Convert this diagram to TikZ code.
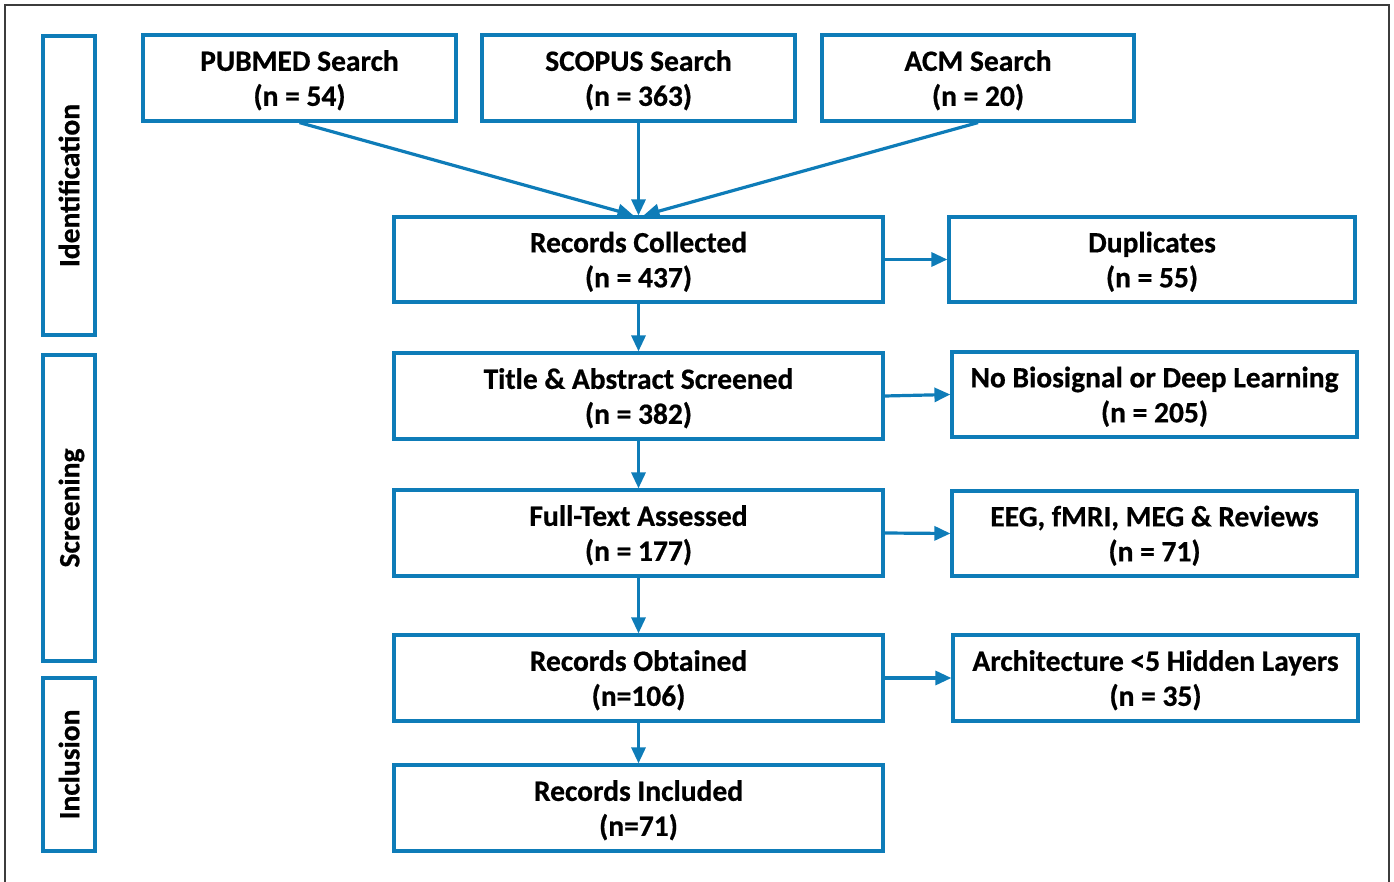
\documentclass[tikz,border=0pt]{standalone}
\usepackage{fontspec}
\setmainfont{Carlito}[BoldFeatures={FakeBold=0.6}]
\usetikzlibrary{arrows.meta}
\definecolor{prismablue}{RGB}{14,124,184}
\definecolor{framegray}{RGB}{60,60,60}
\begin{document}
\begin{tikzpicture}[x=1pt, y=-1pt,
    box/.style={draw=prismablue, line width=3.2pt, fill=white, align=center,
        inner sep=0pt, text depth=0pt, font=\fontsize{29.5}{35}\selectfont\bfseries},
    phase/.style={box, rotate=90, minimum height=52},
    flow/.style={draw=prismablue, line width=3.2pt,
        -{Triangle[length=16pt, width=14pt]}}]
    \useasboundingbox (0,0) rectangle (1394,882);
    % outer frame
    \draw[framegray, line width=2pt] (5,895) -- (5,5) -- (1389,5) -- (1389,895);
    % phases
    \node[phase, minimum width=299] (ident) at (69,185.5) {Identification};
    \node[phase, minimum width=306] (screen) at (69,508) {Screening};
    \node[phase, minimum width=173] (incl) at (69,764.5) {Inclusion};
    % searches
    \node[box, minimum width=313, minimum height=86] (pubmed) at (299.5,78)
        {PUBMED Search\\(n = 54)};
    \node[box, minimum width=313, minimum height=86] (scopus) at (638.5,78)
        {SCOPUS Search\\(n = 363)};
    \node[box, minimum width=312, minimum height=86] (acm) at (978,78)
        {ACM Search\\(n = 20)};
    % main column
    \node[box, minimum width=489, minimum height=85] (collected) at (638.5,259.5)
        {Records Collected\\(n = 437)};
    \node[box, minimum width=489, minimum height=86] (screened) at (638.5,396)
        {Title \& Abstract Screened\\(n = 382)};
    \node[box, minimum width=489, minimum height=86] (fulltext) at (638.5,533)
        {Full-Text Assessed\\(n = 177)};
    \node[box, minimum width=489, minimum height=86] (obtained) at (638.5,678)
        {Records Obtained\\(n=106)};
    \node[box, minimum width=489, minimum height=86] (included) at (638.5,808)
        {Records Included\\(n=71)};
    % exclusions
    \node[box, minimum width=406, minimum height=85] (dupl) at (1152,259.5)
        {Duplicates\\(n = 55)};
    \node[box, minimum width=405, minimum height=85] (nobio) at (1154.5,394.5)
        {No Biosignal or Deep Learning\\(n = 205)};
    \node[box, minimum width=405, minimum height=85] (eeg) at (1154.5,533.5)
        {EEG, fMRI, MEG \& Reviews\\(n = 71)};
    \node[box, minimum width=405, minimum height=86] (arch) at (1155.5,678)
        {Architecture <5 Hidden Layers\\(n = 35)};
    % arrows
    \draw[flow] (pubmed.south) -- ([xshift=-5pt]collected.north);
    \draw[flow] (scopus.south) -- (collected.north);
    \draw[flow] (acm.south) -- ([xshift=5pt]collected.north);
    \draw[flow] (collected) -- (screened);
    \draw[flow] (screened) -- (fulltext);
    \draw[flow] (fulltext) -- (obtained);
    \draw[flow] (obtained) -- (included);
    \draw[flow] (collected.east) -- (dupl.west);
    \draw[flow] (screened.east) -- (nobio.west);
    \draw[flow] (fulltext.east) -- (eeg.west);
    \draw[flow] (obtained.east) -- (arch.west);
\end{tikzpicture}
\end{document}
